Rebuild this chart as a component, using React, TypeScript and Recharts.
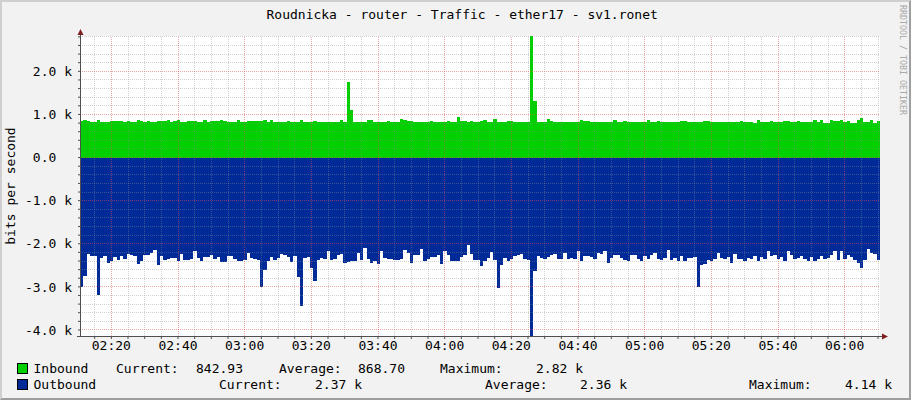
import { Area, AreaChart, CartesianGrid, ReferenceLine, XAxis, YAxis } from "recharts";

// one RRD step per minute, first step starts a little after 02:10
const START_MINUTE = 130.6;

const inboundBits = [
  851, 866, 843, 835, 835, 866, 835, 835, 835, 851, 858, 858, 843, 835, 843, 835, 835, 881, 843, 835,
  858, 835, 828, 843, 851, 851, 874, 835, 843, 866, 828, 828, 858, 858, 851, 835, 835, 866, 835, 843,
  851, 858, 866, 858, 835, 835, 835, 881, 835, 835, 843, 843, 843, 843, 843, 881, 835, 866, 828, 828,
  820, 828, 858, 835, 835, 835, 881, 828, 828, 835, 858, 835, 835, 835, 835, 835, 835, 835, 866, 835,
  1760, 1100, 835, 835, 835, 835, 866, 866, 828, 828, 828, 828, 858, 835, 835, 835, 889, 866, 843, 858,
  835, 835, 835, 835, 835, 858, 835, 835, 835, 835, 858, 835, 835, 935, 843, 843, 835, 858, 835, 835,
  858, 866, 835, 835, 889, 835, 835, 835, 858, 851, 835, 835, 835, 828, 828, 2820, 1320, 828, 828, 828,
  905, 851, 820, 820, 835, 835, 835, 835, 835, 835, 866, 843, 843, 835, 835, 828, 835, 828, 828, 835,
  866, 835, 835, 843, 828, 828, 828, 835, 835, 835, 866, 828, 835, 843, 835, 835, 835, 835, 835, 835,
  858, 858, 828, 828, 835, 835, 828, 858, 851, 828, 835, 835, 835, 835, 835, 835, 835, 835, 858, 835,
  835, 835, 804, 866, 835, 835, 835, 858, 835, 835, 835, 858, 851, 828, 835, 858, 828, 835, 835, 835,
  866, 835, 866, 797, 804, 881, 858, 858, 866, 835, 858, 804, 797, 866, 912, 828, 828, 866, 797, 843,
];

const outboundBits = [
  3000, 2752, 2236, 2290, 2290, 3199, 2329, 2290, 2444, 2406, 2313, 2367, 2290, 2344, 2236, 2267, 2290, 2467, 2406, 2267,
  2267, 2213, 2136, 2498, 2290, 2367, 2344, 2329, 2329, 2390, 2236, 2367, 2367, 2344, 2175, 2329, 2390, 2313, 2313, 2267,
  2344, 2313, 2421, 2421, 2290, 2290, 2344, 2390, 2390, 2367, 2213, 2329, 2344, 2367, 3005, 2598, 2390, 2313, 2367, 2329,
  2236, 2267, 2313, 2421, 2290, 2775, 3445, 2329, 2313, 2560, 2868, 2367, 2329, 2344, 2159, 2367, 2344, 2267, 2236, 2444,
  2421, 2406, 2390, 2213, 2367, 2098, 2344, 2444, 2390, 2467, 2159, 2329, 2344, 2344, 2367, 2367, 2344, 2136, 2213, 2444,
  2252, 2252, 2113, 2406, 2344, 2313, 2313, 2267, 2467, 2175, 2267, 2390, 2390, 2406, 2313, 2252, 2021, 2236, 2367, 2367,
  2521, 2390, 2329, 2190, 2367, 3021, 2483, 2329, 2390, 2344, 2290, 2252, 2236, 2344, 2367, 4140, 2621, 2290, 2329, 2344,
  2313, 2267, 2236, 2344, 2344, 2213, 2344, 2329, 2344, 2175, 2406, 2290, 2290, 2313, 2344, 2213, 2236, 2175, 2444, 2329,
  2267, 2267, 2329, 2367, 2406, 2267, 2252, 2344, 2406, 2290, 2344, 2252, 2213, 2344, 2367, 2329, 2136, 2367, 2329, 2406,
  2290, 2390, 2329, 2329, 2313, 3005, 2498, 2467, 2367, 2390, 2344, 2213, 2329, 2344, 2313, 2444, 2236, 2344, 2344, 2390,
  2329, 2344, 2290, 2390, 2313, 2344, 2159, 2290, 2252, 2344, 2313, 2390, 2175, 2252, 2344, 2329, 2290, 2344, 2390, 2313,
  2390, 2344, 2290, 2344, 2329, 2252, 2175, 2367, 2175, 2344, 2252, 2313, 2367, 2444, 2560, 2367, 2113, 2213, 2236, 2370,
];

const timeLabelTicks = [140, 160, 180, 200, 220, 240, 260, 280, 300, 320, 340, 360];
const valueLabelTicks = [-4000, -3000, -2000, -1000, 0, 1000, 2000];

const legendRows = [
  {
    name: "Inbound",
    color: "#00CF00",
    cells: [
      { x: 116, text: "Current:" },
      { x: 196, text: "842.93" },
      { x: 279, text: "Average:" },
      { x: 358, text: "868.70" },
      { x: 440, text: "Maximum:" },
      { x: 536, text: "2.82 k" },
    ],
  },
  {
    name: "Outbound",
    color: "#002A97",
    cells: [
      { x: 219, text: "Current:" },
      { x: 315, text: "2.37 k" },
      { x: 485, text: "Average:" },
      { x: 580, text: "2.36 k" },
      { x: 749, text: "Maximum:" },
      { x: 845, text: "4.14 k" },
    ],
  },
];

const MONO = "'DejaVu Sans Mono', monospace";
const CHAR_WIDTH = 7.83;
const MINOR_GRID = "#8f8f8f";
const MAJOR_GRID = "#de4f4f";

const rows = inboundBits.map((value, index) => ({
  minute: START_MINUTE + index,
  inbound: value,
  outbound: -outboundBits[index],
}));
// closing row so the last step gets its full width
rows.push({
  minute: START_MINUTE + inboundBits.length,
  inbound: inboundBits[inboundBits.length - 1],
  outbound: -outboundBits[outboundBits.length - 1],
});

const endMinute = START_MINUTE + inboundBits.length;

const timeMinorTicks: number[] = [];
for (let m = 135; m <= 370; m += 5) timeMinorTicks.push(m);

const valueMinorTicks: number[] = [];
for (let v = -4000; v <= 2800; v += 200) valueMinorTicks.push(v);

function formatClock(minute: number) {
  const hours = Math.floor(minute / 60);
  const minutes = Math.round(minute % 60);
  return `${String(hours).padStart(2, "0")}:${String(minutes).padStart(2, "0")}`;
}

function TimeTick({ x, y, payload }: any) {
  if (!timeLabelTicks.includes(payload.value)) return <g />;
  return (
    <text x={x} y={y + 8.7} textAnchor="middle" fontFamily={MONO} fontSize={13} fill="#000">
      {formatClock(payload.value)}
    </text>
  );
}

function ValueTick({ x, y, payload }: any) {
  const value = payload.value;
  if (!valueLabelTicks.includes(value)) return <g />;
  const label = value === 0 ? "0.0" : `${(value / 1000).toFixed(1)} k`;
  const shift = value === 0 ? 2 * CHAR_WIDTH : 0;
  return (
    <text x={x - shift} y={y} dy="0.36em" textAnchor="end" fontFamily={MONO} fontSize={13} fill="#000">
      {label}
    </text>
  );
}

function gridLine(key: string, axis: "x" | "y", value: number, color: string, opacity: number) {
  const position = axis === "x" ? { x: value } : { y: value };
  return (
    <ReferenceLine
      key={key}
      {...position}
      stroke={color}
      strokeOpacity={opacity}
      strokeDasharray="1 1"
      shapeRendering="crispEdges"
    />
  );
}

export default function App() {
  return (
    <div style={{ position: "absolute", left: 0, top: 0, width: 911, height: 400 }}>
      <div
        style={{
          position: "absolute",
          inset: 0,
          boxSizing: "border-box",
          background: "#F2F2F2",
          borderTop: "2px solid #CFCFCF",
          borderLeft: "2px solid #CFCFCF",
          borderRight: "2px solid #9E9E9E",
          borderBottom: "2px solid #9E9E9E",
        }}
      />
      <div style={{ position: "absolute", left: 0, top: 0 }}>
        <AreaChart
          width={911}
          height={400}
          data={rows}
          margin={{ top: 36, right: 31, bottom: 44, left: 0 }}
        >
          <CartesianGrid horizontal={false} vertical={false} fill="#ffffff" fillOpacity={1} />
          <XAxis
            dataKey="minute"
            type="number"
            domain={[START_MINUTE, endMinute]}
            allowDataOverflow
            ticks={timeMinorTicks}
            interval={0}
            axisLine={false}
            tickLine={{ stroke: "#4f4f4f" }}
            tickSize={3}
            tickMargin={2}
            height={20}
            tick={(props: any) => <TimeTick {...props} />}
          />
          <YAxis
            type="number"
            domain={[-4140, 2820]}
            allowDataOverflow
            ticks={valueMinorTicks}
            interval={0}
            axisLine={false}
            tickLine={{ stroke: "#4f4f4f" }}
            tickSize={2}
            tickMargin={6}
            width={80}
            tick={(props: any) => <ValueTick {...props} />}
          />
          <Area
            dataKey="inbound"
            type="stepAfter"
            baseValue={0}
            fill="#00CF00"
            fillOpacity={1}
            stroke="none"
            shapeRendering="crispEdges"
            dot={false}
            activeDot={false}
            isAnimationActive={false}
          />
          <Area
            dataKey="outbound"
            type="stepAfter"
            baseValue={0}
            fill="#002A97"
            fillOpacity={1}
            stroke="none"
            shapeRendering="crispEdges"
            dot={false}
            activeDot={false}
            isAnimationActive={false}
          />
          {valueMinorTicks
            .filter((v) => !valueLabelTicks.includes(v))
            .map((v) => gridLine(`hm${v}`, "y", v, MINOR_GRID, 0.4))}
          {timeMinorTicks
            .filter((m) => !timeLabelTicks.includes(m))
            .map((m) => gridLine(`vm${m}`, "x", m, MINOR_GRID, 0.4))}
          {valueLabelTicks.map((v) => gridLine(`hM${v}`, "y", v, MAJOR_GRID, 0.5))}
          {timeLabelTicks.map((m) => gridLine(`vM${m}`, "x", m, MAJOR_GRID, 0.5))}
        </AreaChart>
      </div>
      <svg
        width={911}
        height={400}
        style={{ position: "absolute", left: 0, top: 0, pointerEvents: "none" }}
      >
        <line x1={80.5} y1={33} x2={80.5} y2={337} stroke="#4f4f4f" />
        <line x1={77} y1={336.5} x2={884} y2={336.5} stroke="#4f4f4f" />
        <polygon points="80.5,29 77.5,35 83.5,35" fill="#801f1f" />
        <polygon points="888,336.5 882,333.5 882,339.5" fill="#801f1f" />
        <text x={266.5} y={19} fontFamily={MONO} fontSize={13} fill="#000">
          Roudnicka - router - Traffic - ether17 - sv1.ronet
        </text>
        <text
          transform="translate(14.5,186) rotate(-90)"
          textAnchor="middle"
          fontFamily={MONO}
          fontSize={13}
          fill="#000"
        >
          bits per second
        </text>
        <text
          transform="translate(900,5) rotate(90)"
          fontFamily={MONO}
          fontSize={8.3}
          fill="#a8a8a8"
        >
          RRDTOOL / TOBI OETIKER
        </text>
        {legendRows.map((row, index) => {
          const baseline = 373.3 + index * 16;
          return (
            <g key={row.name}>
              <rect
                x={17.5}
                y={baseline - 9.8}
                width={10}
                height={10}
                fill={row.color}
                stroke="#000"
              />
              <text x={33.5} y={baseline} fontFamily={MONO} fontSize={13} fill="#000">
                {row.name}
              </text>
              {row.cells.map((cell) => (
                <text
                  key={cell.x}
                  x={cell.x}
                  y={baseline}
                  fontFamily={MONO}
                  fontSize={13}
                  fill="#000"
                >
                  {cell.text}
                </text>
              ))}
            </g>
          );
        })}
      </svg>
    </div>
  );
}
